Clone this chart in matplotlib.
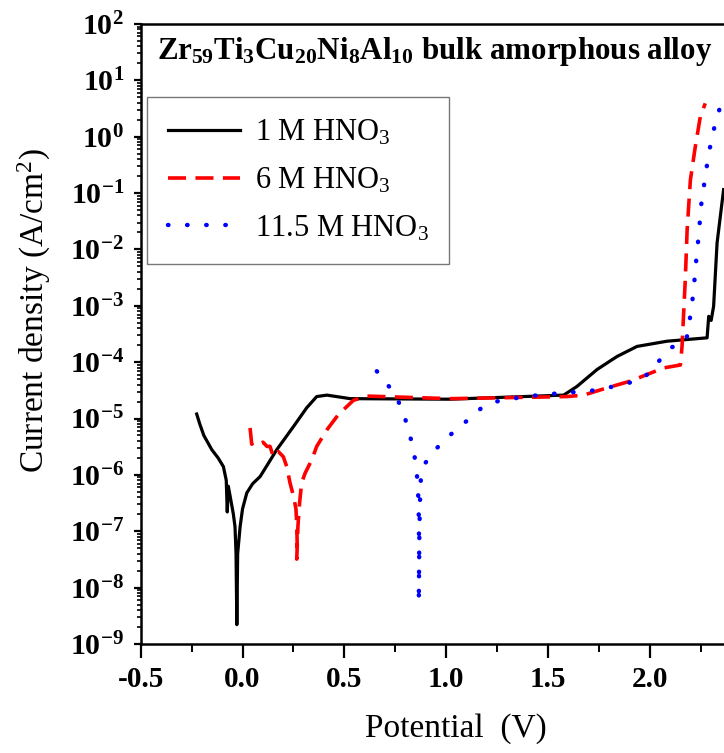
import matplotlib
matplotlib.use('Agg')
import matplotlib.pyplot as plt
from matplotlib.ticker import MultipleLocator, LogLocator, NullFormatter

plt.rcParams['font.family'] = ['Liberation Serif', 'DejaVu Serif']
plt.rcParams['mathtext.default'] = 'regular'
plt.rcParams['axes.unicode_minus'] = False

# 1 M HNO3
e_1m = [-0.225, -0.21, -0.19, -0.151, -0.12, -0.094, -0.08, -0.075, -0.07, -0.061,
        -0.045, -0.037, -0.032, -0.028, -0.024, -0.012, 0.0, 0.021, 0.05, 0.086,
        0.168, 0.25, 0.315, 0.364, 0.414, 0.528, 1.019, 1.576, 1.641, 1.74,
        1.838, 1.936, 2.083, 2.28, 2.288, 2.30, 2.312, 2.329, 2.361]
i_1m = [1.2e-5, 8e-6, 5e-6, 2.8e-6, 2.0e-6, 1.4e-6, 8e-7, 2.2e-7, 6.3e-7, 4.2e-7,
        2e-7, 1.2e-7, 4e-8, 2.2e-9, 4e-8, 1.2e-7, 2.5e-7, 4.8e-7, 7e-7, 9.3e-7,
        2.8e-6, 7.2e-6, 1.55e-5, 2.45e-5, 2.6e-5, 2.25e-5, 2.2e-5, 2.6e-5, 3.7e-5, 7.4e-5,
        1.26e-4, 1.9e-4, 2.35e-4, 2.7e-4, 6.5e-4, 5.5e-4, 9.8e-4, 1.3e-2, 1.15e-1]

# 6 M HNO3
e_6m = [0.037, 0.045, 0.053, 0.08, 0.1, 0.12, 0.135, 0.151, 0.175, 0.2,
        0.217, 0.233, 0.25, 0.262, 0.266, 0.268, 0.266, 0.272, 0.28, 0.29,
        0.307, 0.34, 0.364, 0.414, 0.47, 0.544, 0.61, 1.019, 1.592, 1.674,
        1.789, 1.903, 2.067, 2.149, 2.157, 2.165, 2.173, 2.182, 2.198, 2.222,
        2.247, 2.271]
i_6m = [6.8e-6, 3.5e-6, 3.7e-6, 3.5e-6, 3.8e-6, 3.2e-6, 3.2e-6, 2.1e-6, 2.6e-6, 2.1e-6,
        1.4e-6, 7.2e-7, 4.2e-7, 2.5e-7, 1.4e-7, 6.3e-8, 3.2e-8, 1.26e-7, 3.2e-7, 7.2e-7,
        1.07e-6, 1.86e-6, 3.2e-6, 6.3e-6, 1.17e-5, 2.1e-5, 2.5e-5, 2.25e-5, 2.45e-5, 2.6e-5,
        3.5e-5, 4.6e-5, 7.9e-5, 8.9e-5, 1.9e-4, 7.4e-4, 2.9e-3, 2.2e-2, 1.7e-1, 6.6e-1,
        2.3, 3.9]

# 11.5 M HNO3
e_11m = [0.659, 0.724, 0.765, 0.79, 0.811, 0.836, 0.851, 0.856, 0.861, 0.865,
         0.867, 0.865, 0.868, 0.872, 0.875, 0.883, 0.896, 0.937, 0.962, 0.995,
         1.019, 1.117, 1.183, 1.265, 1.412, 1.592, 1.69, 1.87, 1.969, 2.034,
         2.1, 2.165, 2.19, 2.198, 2.211, 2.219, 2.227, 2.236, 2.244, 2.252,
         2.264, 2.277, 2.292, 2.312, 2.337, 2.354]
i_11m = [6.9e-5, 3.5e-5, 2.0e-5, 1.26e-5, 6.8e-6, 3.2e-6, 1.5e-6, 9.8e-7, 5.9e-7, 1.8e-7,
         3.6e-8, 5.4e-9, 1e-7, 5e-7, 8.1e-7, 1.1e-6, 1.6e-6, 2.6e-6, 3.2e-6, 4.2e-6,
         5.1e-6, 1.02e-5, 1.66e-5, 2.1e-5, 2.5e-5, 2.9e-5, 3.0e-5, 4.0e-5, 5.2e-5, 9.5e-5,
         1.8e-4, 2.2e-4, 3.3e-4, 7.4e-4, 1.5e-3, 3.1e-3, 6.6e-3, 1.4e-2, 3.0e-2, 6.6e-2,
         1.3e-1, 2.75e-1, 5.9e-1, 1.3, 2.75, 4.5]

labels = ['1 M HNO$_3$', '6 M HNO$_3$', '11.5 M HNO$_3$']


def plot_curves():
    fig = plt.figure(figsize=(7.24, 7.53), dpi=100)
    ax = fig.add_axes([0.1943, 0.1448, 0.8057, 0.8234])

    ax.plot(e_1m, i_1m, color='black', lw=2.3, label=labels[0])
    ax.plot(e_6m, i_6m, color='red', lw=2.6, dashes=(5, 2.6), label=labels[1])
    ax.plot(e_11m, i_11m, color='blue', lw=3.2, dashes=(0.1, 4.2),
            dash_capstyle='round', label=labels[2])

    ax.set_yscale('log')
    ax.set_ylim(1e-9, 1e2)
    ax.set_xlim(-0.5, 2.363)
    ax.xaxis.set_major_locator(MultipleLocator(0.5))
    ax.xaxis.set_minor_locator(MultipleLocator(0.25))
    ax.yaxis.set_major_locator(LogLocator(base=10, numticks=20))
    ax.yaxis.set_minor_locator(LogLocator(base=10, subs=range(2, 10), numticks=20))
    ax.yaxis.set_minor_formatter(NullFormatter())
    ax.xaxis.set_major_formatter(plt.FuncFormatter(lambda v, p: f'{v:.1f}'))

    for s in ['left', 'bottom', 'top']:
        ax.spines[s].set_linewidth(1.8)
    ax.spines['right'].set_visible(False)
    ax.tick_params(axis='x', which='major', direction='out', length=10, width=1.6,
                   labelsize=21, pad=6)
    ax.tick_params(axis='x', which='minor', direction='out', length=5.5, width=1.4)
    ax.tick_params(axis='y', which='major', direction='out', length=5, width=1.6,
                   labelsize=21.5, pad=7)
    ax.tick_params(axis='y', which='minor', direction='out', length=3, width=1.2)
    for lab in ax.get_xticklabels() + ax.get_yticklabels():
        lab.set_fontweight('bold')

    ax.set_xlabel('Potential  (V)', fontsize=24)
    ax.xaxis.set_label_coords(0.54, -0.112)
    ax.set_ylabel('Current density (A/cm$^2$)', fontsize=24)
    ax.yaxis.set_label_coords(-0.150, 0.537)

    ax.text(0.028, 0.982, 'Zr$_{59}$Ti$_3$Cu$_{20}$Ni$_8$Al$_{10}$ bulk amorphous alloy',
            transform=ax.transAxes, ha='left', va='top', fontsize=22.3, fontweight='bold')

    leg = ax.legend(loc='upper left', bbox_to_anchor=(0.0108, 0.882), fontsize=22,
                    frameon=True, fancybox=False, edgecolor='#555555',
                    handlelength=2.35, handletextpad=0.5, labelspacing=0.6,
                    borderpad=0.68, borderaxespad=0)
    leg.get_frame().set_linewidth(1.0)

    fig.savefig('out.png', dpi=100)


if __name__ == "__main__":
    plot_curves()
